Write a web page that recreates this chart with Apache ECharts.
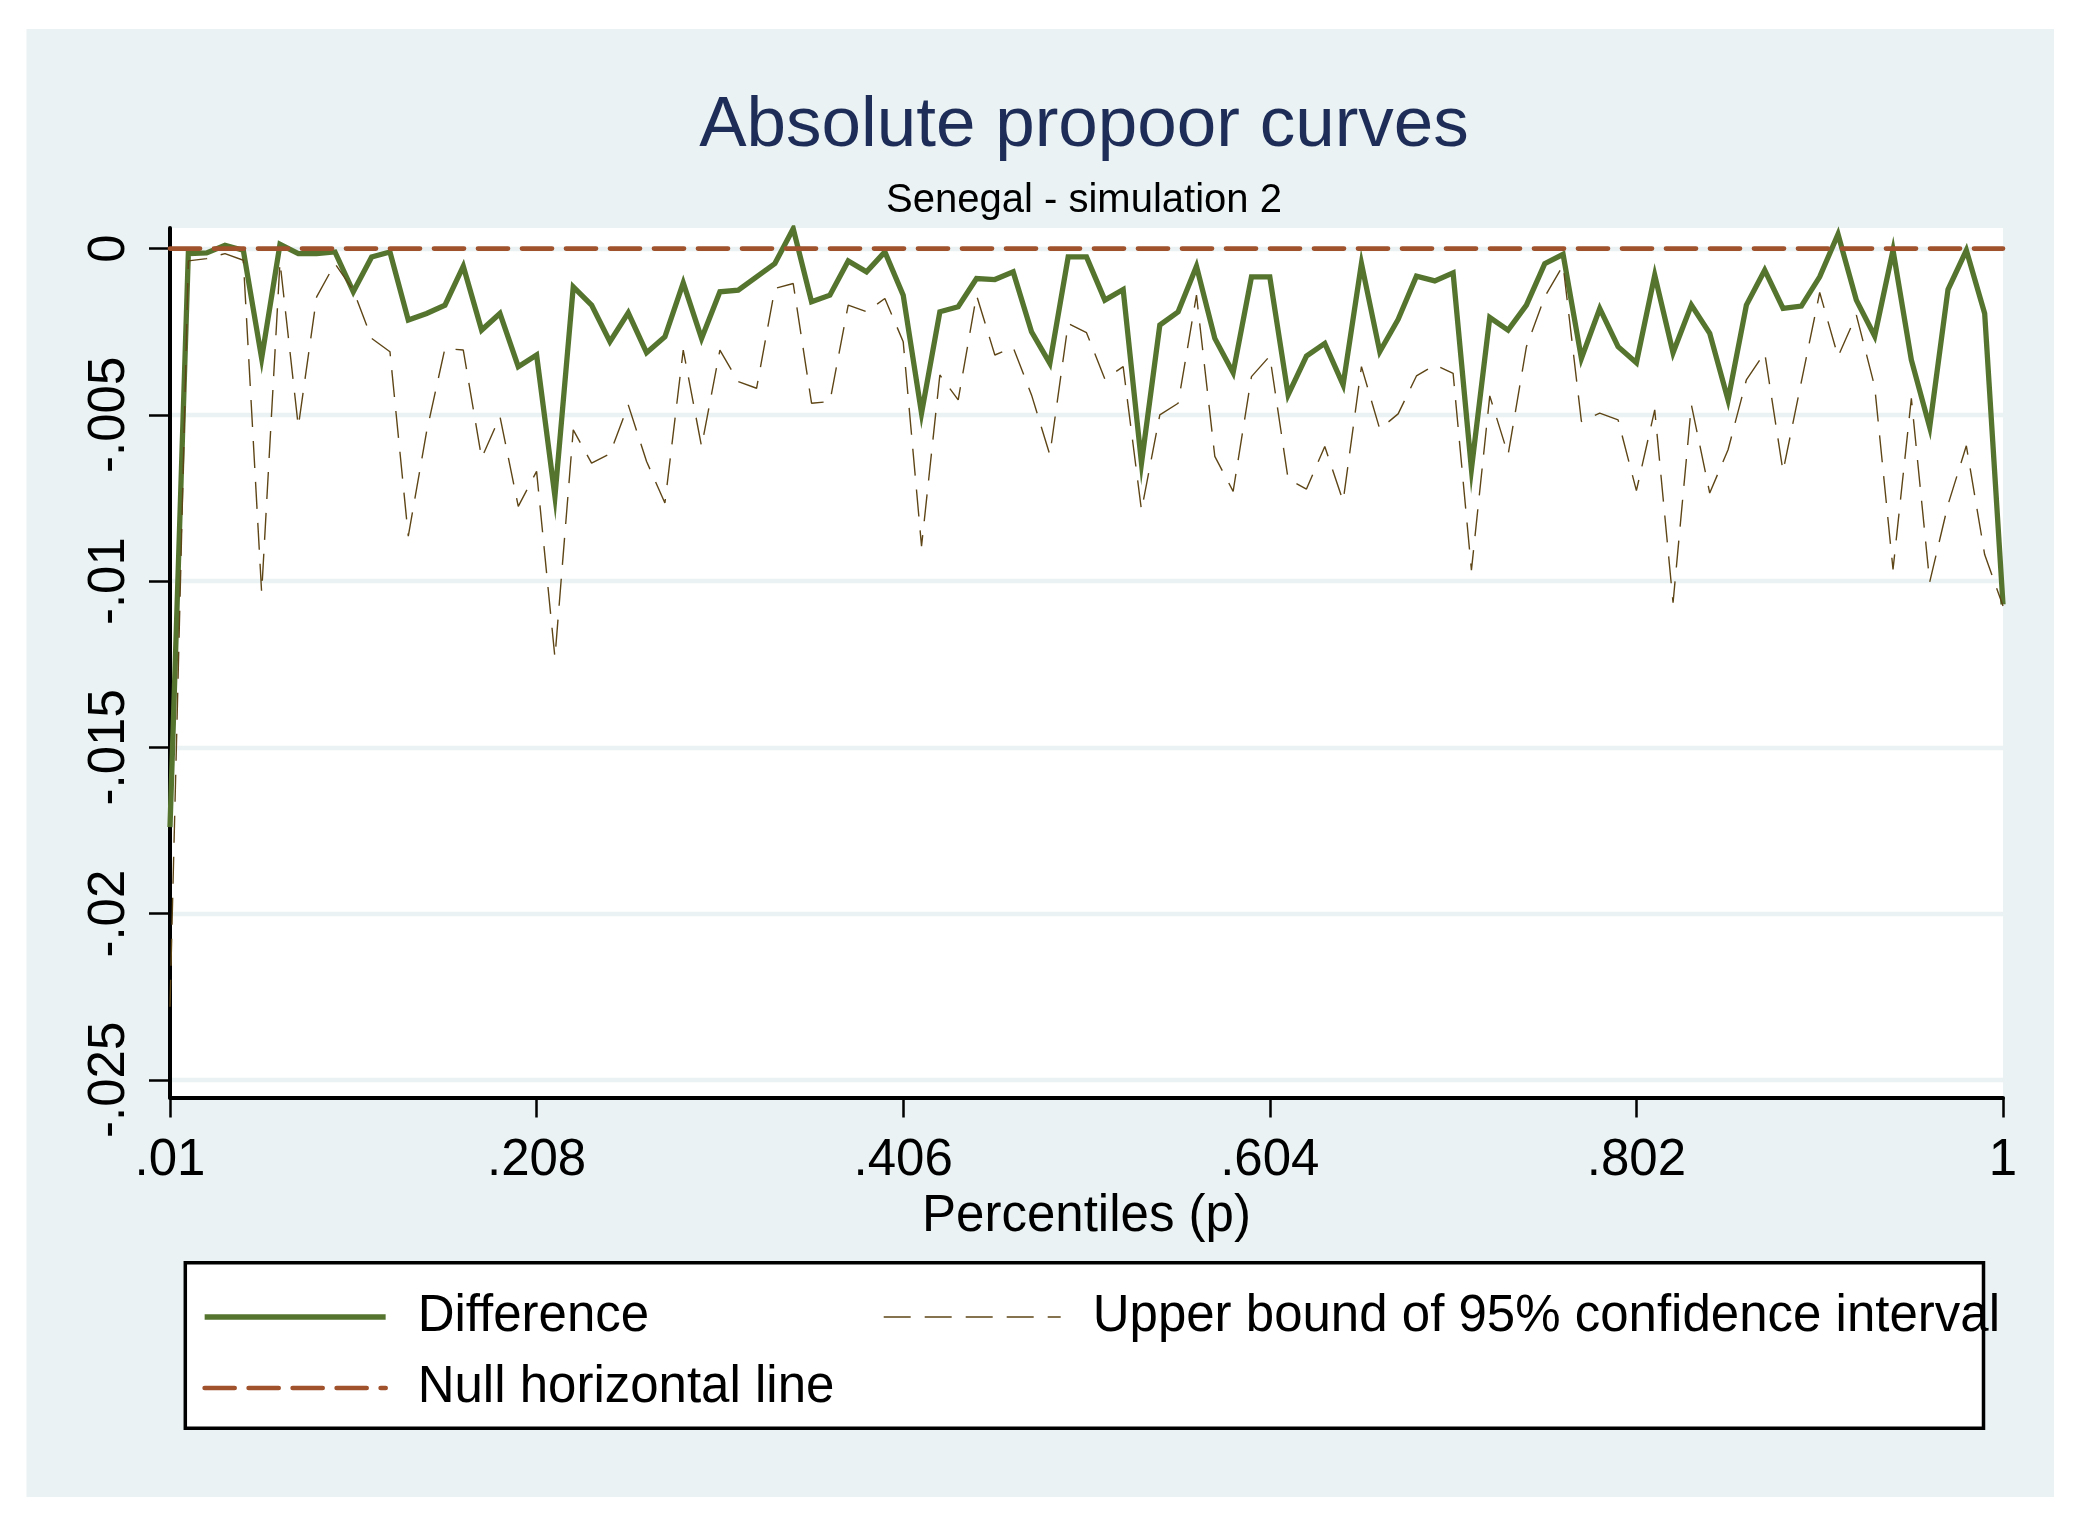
<!DOCTYPE html>
<html>
<head>
<meta charset="utf-8">
<script src="https://cdn.jsdelivr.net/npm/echarts@6/dist/echarts.min.js"></script>
<style>html,body{margin:0;padding:0;background:#ffffff}#chart{width:2081px;height:1539px}</style>
</head>
<body>
<div id="chart"></div>
<script>
// Percentile grid (x values)
const percentiles = [
0.0100,0.0199,0.0298,0.0397,0.0496,0.0595,0.0694,0.0793,0.0892,0.0991,
0.1090,0.1189,0.1288,0.1387,0.1486,0.1585,0.1684,0.1783,0.1882,0.1981,
0.2080,0.2179,0.2278,0.2377,0.2476,0.2575,0.2674,0.2773,0.2872,0.2971,
0.3070,0.3169,0.3268,0.3367,0.3466,0.3565,0.3664,0.3763,0.3862,0.3961,
0.4060,0.4159,0.4258,0.4357,0.4456,0.4555,0.4654,0.4753,0.4852,0.4951,
0.5050,0.5149,0.5248,0.5347,0.5446,0.5545,0.5644,0.5743,0.5842,0.5941,
0.6040,0.6139,0.6238,0.6337,0.6436,0.6535,0.6634,0.6733,0.6832,0.6931,
0.7030,0.7129,0.7228,0.7327,0.7426,0.7525,0.7624,0.7723,0.7822,0.7921,
0.8020,0.8119,0.8218,0.8317,0.8416,0.8515,0.8614,0.8713,0.8812,0.8911,
0.9010,0.9109,0.9208,0.9307,0.9406,0.9505,0.9604,0.9703,0.9802,0.9901,
1.0000
];
// Difference curve
const difference = [
-0.0174,-0.00015,-0.00013,0.0001,-0.00005,-0.0033,0.00013,-0.00015,-0.00015,-0.0001,
-0.0013,-0.00025,-0.0001,-0.00215,-0.00195,-0.0017,-0.00053,-0.00245,-0.00195,-0.00355,
-0.0032,-0.00745,-0.00115,-0.0017,-0.0028,-0.00193,-0.00313,-0.00265,-0.00103,-0.0027,
-0.0013,-0.00125,-0.00085,-0.00045,0.0006,-0.0016,-0.0014,-0.00037,-0.0007,-0.0001,
-0.0014,-0.00495,-0.0019,-0.00175,-0.0009,-0.00093,-0.0007,-0.0025,-0.00345,-0.00025,
-0.00025,-0.00155,-0.00123,-0.00645,-0.0023,-0.0019,-0.00053,-0.0027,-0.00373,-0.00085,
-0.00085,-0.0044,-0.00323,-0.00285,-0.0041,-0.00045,-0.0031,-0.00213,-0.00083,-0.00097,
-0.00073,-0.00663,-0.00207,-0.00245,-0.0017,-0.00045,-0.00017,-0.0033,-0.0018,-0.00295,
-0.00343,-0.0008,-0.00313,-0.0017,-0.00255,-0.00455,-0.0017,-0.00065,-0.0018,-0.00173,
-0.00085,0.00043,-0.00155,-0.00263,-0.00005,-0.00335,-0.00537,-0.00123,-0.00005,-0.00195,
-0.0107
];
// Upper bound of 95% confidence interval
const upperBound = [
-0.0228,-0.00037,-0.0003,-0.00015,-0.00035,-0.01035,-0.0004,-0.00535,-0.00145,-0.00045,
-0.00125,-0.0027,-0.0031,-0.00865,-0.0055,-0.003,-0.00305,-0.0063,-0.00505,-0.00775,
-0.0067,-0.0123,-0.00545,-0.00645,-0.00617,-0.0047,-0.0064,-0.00765,-0.00305,-0.00595,
-0.00305,-0.004,-0.0042,-0.0012,-0.00105,-0.00465,-0.0046,-0.0017,-0.0019,-0.0015,
-0.0028,-0.00895,-0.0038,-0.00455,-0.0014,-0.0032,-0.00297,-0.0044,-0.0062,-0.00225,
-0.00253,-0.00392,-0.00355,-0.00787,-0.005,-0.00465,-0.0014,-0.00625,-0.0073,-0.00385,
-0.00323,-0.00693,-0.00723,-0.00595,-0.0076,-0.00355,-0.00543,-0.00497,-0.00383,-0.0035,
-0.00375,-0.00967,-0.00443,-0.0062,-0.00295,-0.00145,-0.0005,-0.0052,-0.00495,-0.00515,
-0.00728,-0.00485,-0.01065,-0.0047,-0.00735,-0.00605,-0.00395,-0.00313,-0.0067,-0.004,
-0.00132,-0.00325,-0.002,-0.00415,-0.00965,-0.0045,-0.01003,-0.0077,-0.00593,-0.0092,
-0.01075
];
// Null horizontal line
const nullX = [0.01, 1];
const nullY = [0, 0];
// Tick values and labels
const xTicks = [0.01, 0.208, 0.406, 0.604, 0.802, 1];
const xTickLabels = ['.01', '.208', '.406', '.604', '.802', '1'];
const yTicks = [-0.025, -0.02, -0.015, -0.01, -0.005, 0];
const yTickLabels = ['-.025', '-.02', '-.015', '-.01', '-.005', '0'];

const FONT = "'Liberation Sans', Arial, Helvetica, sans-serif";
const GREEN = '#55752F', BROWN = '#5E4516', RED = '#A0522D', BG = '#EAF2F3';

function lookup(ticks, labels, v) {
  for (let i = 0; i < ticks.length; i++) if (Math.abs(ticks[i] - v) < 1e-9) return labels[i];
  return '';
}

const chart = echarts.init(document.getElementById('chart'), null, {renderer: 'canvas'});
chart.setOption({
  animation: false,
  backgroundColor: '#ffffff',
  graphic: [
    {type: 'rect', z: -100, silent: true, shape: {x: 26.5, y: 29, width: 2027.5, height: 1468}, style: {fill: BG}},
    {type: 'rect', z: -1, silent: true, shape: {x: 185.3, y: 1262.7, width: 1798.2, height: 165.6}, style: {fill: '#ffffff', stroke: '#000000', lineWidth: 3.5}}
  ],
  title: [
    {text: 'Absolute propoor curves', left: 1084, top: 91, textAlign: 'center', padding: 0,
     textStyle: {fontFamily: FONT, fontSize: 71, lineHeight: 71, fontWeight: 'normal', color: '#1E2D57'}},
    {text: 'Senegal - simulation 2', left: 1084, top: 181, textAlign: 'center', padding: 0,
     textStyle: {fontFamily: FONT, fontSize: 40, lineHeight: 40, fontWeight: 'normal', color: '#000000'}}
  ],
  legend: [
    {data: [{name: 'Difference', lineStyle: {width: 5.3}, itemStyle: {opacity: 0}},
            {name: 'Null horizontal line', lineStyle: {width: 4.7}, itemStyle: {opacity: 0}}],
     orient: 'vertical', left: 202, top: 1287, itemWidth: 181, itemHeight: 14, itemGap: 11, padding: 0,
     selectedMode: false,
     textStyle: {fontFamily: FONT, fontSize: 51, lineHeight: 60, color: '#000000', padding: [0, 0, 0, 27]}},
    {data: [{name: 'Upper bound of 95% confidence interval', lineStyle: {width: 1.4}, itemStyle: {opacity: 0}}],
     orient: 'vertical', left: 883, top: 1287, itemWidth: 177, itemHeight: 14, itemGap: 11, padding: 0,
     selectedMode: false,
     textStyle: {fontFamily: FONT, fontSize: 51, lineHeight: 60, color: '#000000', padding: [0, 0, 0, 27]}}
  ],
  grid: {left: 170, right: 78, top: 228, bottom: 441.5, show: true, backgroundColor: '#ffffff', borderWidth: 0,
         containLabel: false, outerBoundsMode: 'none'},
  xAxis: {
    type: 'value', min: 0.01, max: 1,
    axisLine: {show: true, onZero: false, lineStyle: {color: '#000000', width: 4}},
    axisTick: {show: true, customValues: xTicks, length: 20, lineStyle: {color: '#000000', width: 2.5}},
    axisLabel: {customValues: xTicks, margin: 38, fontFamily: FONT, fontSize: 51, lineHeight: 51, color: '#000000',
                showMinLabel: true, showMaxLabel: true, formatter: v => lookup(xTicks, xTickLabels, v)},
    splitLine: {show: false},
    name: 'Percentiles (p)', nameLocation: 'middle', nameGap: 78,
    nameTextStyle: {fontFamily: FONT, fontSize: 51, lineHeight: 51, color: '#000000'}
  },
  yAxis: {
    type: 'value', min: -0.02553, max: 0.00062,
    axisLine: {show: true, onZero: false, lineStyle: {color: '#000000', width: 4}},
    axisTick: {show: true, customValues: yTicks, length: 21, lineStyle: {color: '#000000', width: 2.5}},
    axisLabel: {customValues: yTicks, rotate: 90, margin: 35, fontFamily: FONT, fontSize: 51, lineHeight: 51, color: '#000000',
                showMinLabel: true, showMaxLabel: true, formatter: v => lookup(yTicks, yTickLabels, v)},
    splitLine: {show: true, lineStyle: {color: BG, width: 4.3}}
  },
  series: [
    {name: 'Difference', type: 'line', z: 2, symbol: 'none', showSymbol: false,
     data: percentiles.map((p, i) => [p, difference[i]]),
     itemStyle: {color: GREEN}, lineStyle: {color: GREEN, width: 5.3, join: 'miter'}},
    {name: 'Upper bound of 95% confidence interval', type: 'line', z: 3, symbol: 'none', showSymbol: false,
     data: percentiles.map((p, i) => [p, upperBound[i]]),
     itemStyle: {color: BROWN}, lineStyle: {color: BROWN, width: 1.4, type: [27, 14]}},
    {name: 'Null horizontal line', type: 'line', z: 4, symbol: 'none', showSymbol: false,
     data: nullX.map((x, i) => [x, nullY[i]]),
     itemStyle: {color: RED}, lineStyle: {color: RED, width: 4.7, type: [30, 14], cap: 'round'}}
  ]
});
</script>
</body>
</html>
